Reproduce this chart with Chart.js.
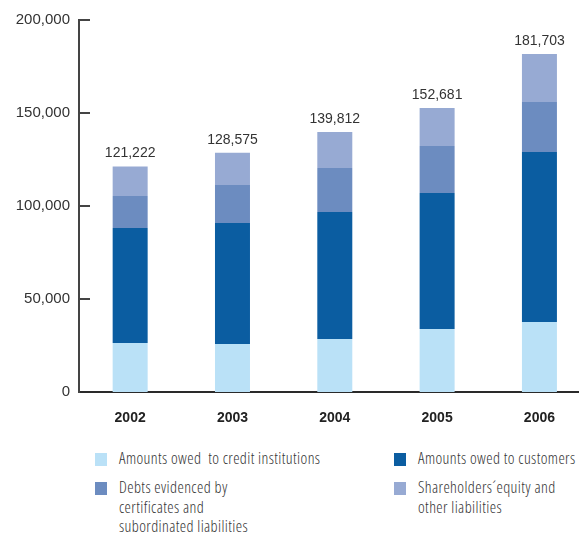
<!DOCTYPE html>
<html>
<head>
<meta charset="utf-8">
<script src="https://cdn.jsdelivr.net/npm/chart.js@4.4.0/dist/chart.umd.min.js"></script>
<style>
    html, body { margin: 0; padding: 0; background: #fff; overflow: hidden; }
    #wrap { position: relative; width: 579px; height: 534px; overflow: hidden; }
    #chart { position: absolute; left: 0; top: 0; }
    .leg { position: absolute; font-family: "Open Sans", sans-serif; font-stretch: condensed; font-weight: 300;
        letter-spacing: 0.4px; font-size: 16px; line-height: 19.5px; color: #333; white-space: pre; }
    .leg i { position: absolute; left: -24px; top: 4px; width: 12px; height: 13px; }
</style>
</head>
<body>
<div id="wrap">
    <canvas id="chart" width="600" height="440"></canvas>
    <div id="legend"></div>
</div>
<script>
const years = ['2002', '2003', '2004', '2005', '2006'];

const creditInst = [26300, 25800, 28500, 33870, 37630];
const customers = [61900, 65050, 68270, 73110, 91390];
const debts = [17200, 20430, 23650, 25270, 26880];
const equity = [15822, 17295, 19392, 20431, 25803];

const yTicks = [0, 50000, 100000, 150000, 200000];

const seriesNames = [
    'Amounts owed  to credit institutions',
    'Amounts owed to customers',
    'Debts evidenced by\ncertificates and\nsubordinated liabilities',
    'Shareholders\u00b4equity and\nother liabilities'
];
const seriesColors = ['#bae1f7', '#0b5da1', '#6c8cc0', '#97aad3'];

const fmt = n => n.toLocaleString('en-US');

// totals above each bar
const totalsPlugin = {
    id: 'totals',
    afterDatasetsDraw(chart) {
        const ctx = chart.ctx;
        const x = chart.scales.x, y = chart.scales.y;
        ctx.save();
        ctx.font = '14px "Liberation Sans", sans-serif';
        ctx.fillStyle = '#333';
        ctx.textAlign = 'center';
        ctx.textBaseline = 'bottom';
        years.forEach((yr, i) => {
            let sum = 0;
            chart.data.datasets.forEach(ds => sum += ds.data[i]);
            ctx.fillText(fmt(sum), x.getPixelForValue(i), y.getPixelForValue(sum) - 6);
        });
        ctx.restore();
    }
};

// short tick marks pointing into the plot
const innerTicks = {
    id: 'innerTicks',
    afterDraw(chart) {
        const ctx = chart.ctx;
        const y = chart.scales.y;
        const left = chart.chartArea.left;
        ctx.save();
        ctx.strokeStyle = '#444';
        ctx.lineWidth = 2;
        yTicks.forEach(v => {
            if (v === 0) return;
            const py = Math.round(y.getPixelForValue(v));
            ctx.beginPath();
            ctx.moveTo(left - 1, py);
            ctx.lineTo(left + 11, py);
            ctx.stroke();
        });
        ctx.restore();
    }
};

new Chart(document.getElementById('chart'), {
    type: 'bar',
    data: {
        labels: years,
        datasets: [creditInst, customers, debts, equity].map((d, k) => ({
            label: seriesNames[k],
            data: d,
            backgroundColor: seriesColors[k],
            borderWidth: 0,
            categoryPercentage: 1,
            barPercentage: 0.342
        }))
    },
    options: {
        responsive: false,
        animation: false,
        layout: { padding: { top: 20, right: 9.4, bottom: 0, left: 0 } },
        plugins: { legend: { display: false }, tooltip: { enabled: false } },
        scales: {
            x: {
                stacked: true,
                grid: { display: false, drawTicks: false },
                border: { display: true, color: '#2a2a2a', width: 2 },
                ticks: {
                    padding: 18,
                    color: '#222',
                    font: { family: '"Liberation Sans", sans-serif', size: 14, weight: 'bold' }
                },
                afterFit: s => { s.height = 48; }
            },
            y: {
                stacked: true,
                min: 0,
                max: 200000,
                afterBuildTicks: s => { s.ticks = yTicks.map(v => ({ value: v })); },
                grid: { display: false, drawTicks: false },
                border: { display: true, color: '#444', width: 2 },
                ticks: {
                    padding: 9,
                    color: '#333',
                    font: { family: '"Liberation Sans", sans-serif', size: 15 },
                    callback: v => fmt(v)
                },
                afterFit: s => { s.width = 79; }
            }
        }
    },
    plugins: [totalsPlugin, innerTicks]
});

// legend, two columns
const legendPos = [
    { left: 119, top: 449 },
    { left: 418, top: 449 },
    { left: 119, top: 478 },
    { left: 418, top: 478 }
];
const legend = document.getElementById('legend');
seriesNames.forEach((name, k) => {
    const el = document.createElement('div');
    el.className = 'leg';
    el.style.left = legendPos[k].left + 'px';
    el.style.top = legendPos[k].top + 'px';
    const sw = document.createElement('i');
    sw.style.background = seriesColors[k];
    el.appendChild(sw);
    el.appendChild(document.createTextNode(name));
    legend.appendChild(el);
});
</script>
</body>
</html>
